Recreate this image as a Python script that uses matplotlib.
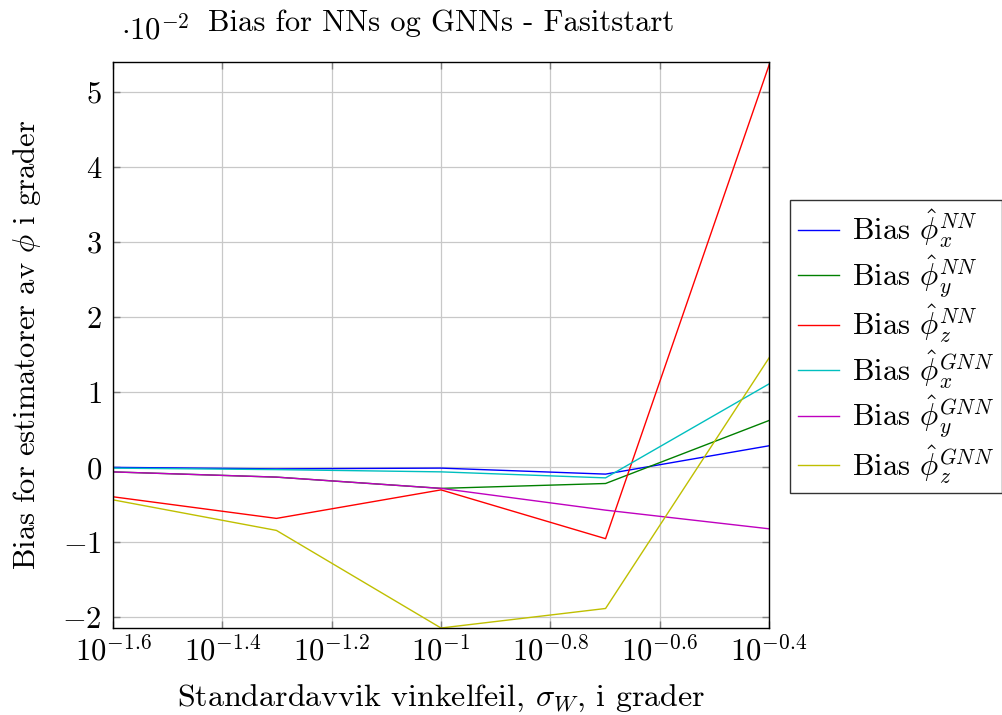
import numpy as np
import matplotlib
matplotlib.use("Agg")
import matplotlib.pyplot as plt
from matplotlib.ticker import FixedLocator, FuncFormatter, NullLocator

plt.rcParams["font.family"] = "cmr10"
plt.rcParams["mathtext.fontset"] = "cm"
plt.rcParams["axes.formatter.use_mathtext"] = True

# standard deviation of the angle error (degrees)
sigma_w = [0.025, 0.05, 0.1, 0.2, 0.4]

# bias values, in units of 1e-2 degrees
bias_nn_x = [0.00, -0.02, -0.01, -0.09, 0.29]
bias_nn_y = [-0.06, -0.13, -0.28, -0.215, 0.63]
bias_nn_z = [-0.39, -0.68, -0.30, -0.95, 5.40]
bias_gnn_x = [-0.01, -0.03, -0.06, -0.14, 1.12]
bias_gnn_y = [-0.06, -0.13, -0.28, -0.57, -0.82]
bias_gnn_z = [-0.43, -0.84, -2.14, -1.88, 1.48]

series = [
    (bias_nn_x, "#0000ff", r"Bias $\hat{\phi}_x^{NN}$"),
    (bias_nn_y, "#008000", r"Bias $\hat{\phi}_y^{NN}$"),
    (bias_nn_z, "#ff0000", r"Bias $\hat{\phi}_z^{NN}$"),
    (bias_gnn_x, "#00bfbf", r"Bias $\hat{\phi}_x^{GNN}$"),
    (bias_gnn_y, "#bf00bf", r"Bias $\hat{\phi}_y^{GNN}$"),
    (bias_gnn_z, "#bfbf00", r"Bias $\hat{\phi}_z^{GNN}$"),
]

x_exponents = [-1.6, -1.4, -1.2, -1.0, -0.8, -0.6, -0.4]
y_ticks = [-2, -1, 0, 1, 2, 3, 4, 5]

FS = 22

fig = plt.figure(figsize=(10.03, 7.15), dpi=100)
ax = fig.add_axes([113 / 1003, 1 - 628 / 715, 656 / 1003, 566 / 715])

for values, color, label in series:
    ax.plot(sigma_w, values, color=color, lw=1.0, label=label)

ax.set_xscale("log")
ax.set_xlim(10 ** -1.6, 10 ** -0.4)
all_vals = np.concatenate([s[0] for s in series])
ax.set_ylim(all_vals.min(), all_vals.max())

ax.xaxis.set_major_locator(FixedLocator([10 ** e for e in x_exponents]))
ax.xaxis.set_minor_locator(NullLocator())
ax.xaxis.set_major_formatter(
    FuncFormatter(lambda v, pos: r"$10^{%g}$" % round(np.log10(v), 1)))
ax.set_yticks(y_ticks)
ax.yaxis.set_major_formatter(FuncFormatter(lambda v, pos: r"$%g$" % v))

ax.grid(True, color="#c8c8c8", lw=0.9)
ax.set_axisbelow(True)
ax.tick_params(direction="in", length=5, width=1, color="#808080",
               top=True, right=True, labelsize=FS, pad=5)
ax.tick_params(axis="y", pad=8)
for spine in ax.spines.values():
    spine.set_linewidth(1.0)

ax.set_title("Bias for NNs og GNNs - Fasitstart", fontsize=FS, pad=22)
ax.text(0.012, 1.03, r"$\cdot 10^{-2}$", transform=ax.transAxes,
        fontsize=FS, ha="left", va="bottom")
ax.set_xlabel(r"Standardavvik vinkelfeil, $\sigma_W$, i grader", fontsize=FS + 1, labelpad=12)
ax.set_ylabel(r"Bias for estimatorer av $\phi$ i grader", fontsize=FS, labelpad=14)

leg = ax.legend(loc="upper left", bbox_to_anchor=(1.032, 0.756), borderaxespad=0,
                fontsize=FS, frameon=True, fancybox=False, edgecolor="black",
                handlelength=1.35, handletextpad=0.43, labelspacing=0.1,
                borderpad=0.25)
leg.get_frame().set_linewidth(1.0)

fig.savefig("out.png", dpi=100)
